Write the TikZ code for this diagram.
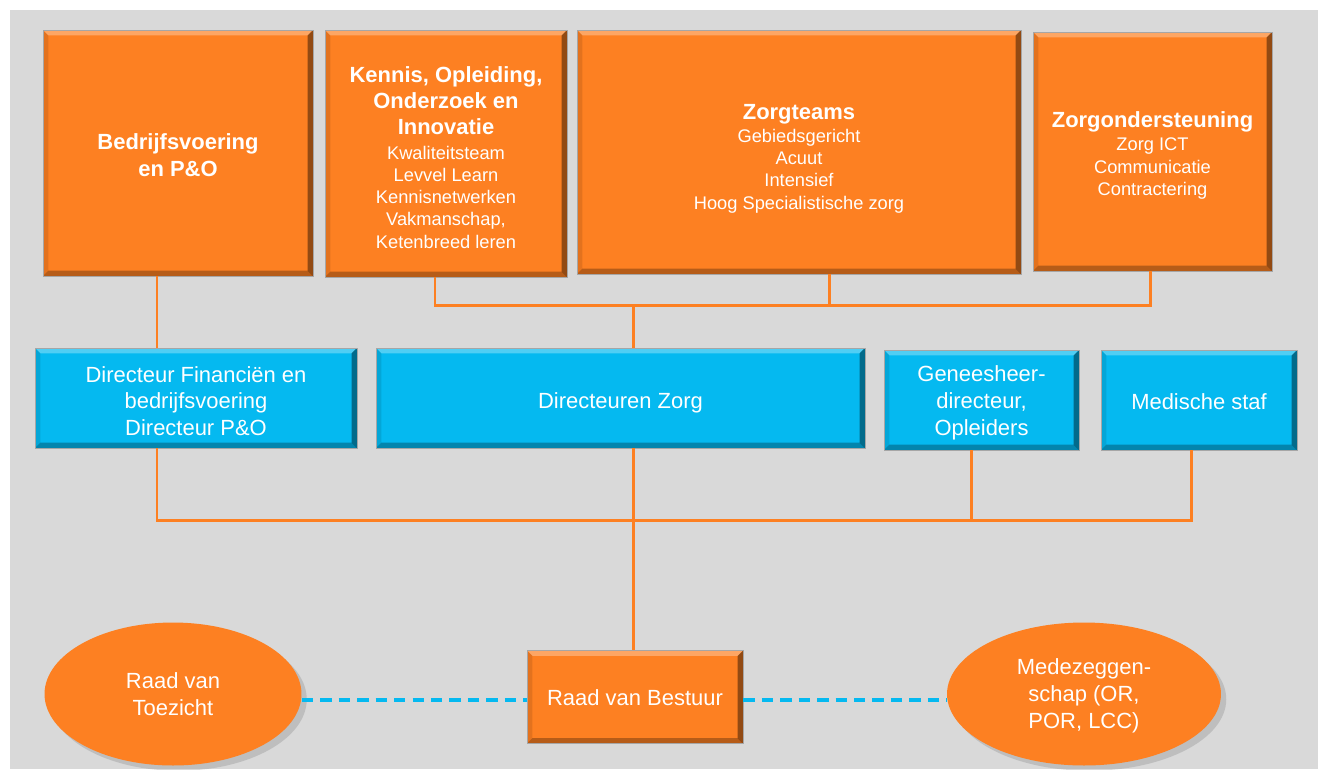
\documentclass[tikz,border=0pt]{standalone}
\usepackage{fontspec}
\setmainfont{Liberation Sans}
\usetikzlibrary{shapes.geometric,shadows}

\definecolor{zorgorange}{RGB}{253,128,34}
\definecolor{zorgblue}{RGB}{5,185,240}
\definecolor{panelgray}{RGB}{217,217,217}

\newcommand{\hfd}{\fontsize{12.5}{15}\selectfont\bfseries}
\newcommand{\subtxt}{\fontsize{10.4}{12.7}\selectfont}
\newcommand{\lbl}{\fontsize{12.5}{15.3}\selectfont}
\newcommand{\topgap}[1]{\rule{0pt}{#1}}

\tikzset{
  bevel/.style={path picture={
      \fill[white,opacity=.3] (path picture bounding box.north west) -- (path picture bounding box.north east)
        -- ([xshift=-#1,yshift=-#1]path picture bounding box.north east)
        -- ([xshift=#1,yshift=-#1]path picture bounding box.north west) -- cycle;
      \fill[black,opacity=.1] (path picture bounding box.north west) -- (path picture bounding box.south west)
        -- ([xshift=#1,yshift=#1]path picture bounding box.south west)
        -- ([xshift=#1,yshift=-#1]path picture bounding box.north west) -- cycle;
      \fill[black,opacity=.28] (path picture bounding box.south west) -- (path picture bounding box.south east)
        -- ([xshift=-#1,yshift=#1]path picture bounding box.south east)
        -- ([xshift=#1,yshift=#1]path picture bounding box.south west) -- cycle;
      \fill[black,opacity=.42] (path picture bounding box.north east) -- (path picture bounding box.south east)
        -- ([xshift=-#1,yshift=#1]path picture bounding box.south east)
        -- ([xshift=-#1,yshift=-#1]path picture bounding box.north east) -- cycle;
  }},
  bevel/.default=3pt,
  link/.style={draw=zorgorange,line width=1.7pt},
  dashlink/.style={draw=zorgblue,line width=2.3pt,dash pattern=on 6.5pt off 4pt}
}

\begin{document}
\begin{tikzpicture}[x=0.02cm,y=-0.02cm]

      \useasboundingbox (0,0) rectangle (1322,769);
      \fill[panelgray] (10,10) rectangle (1318,769);

      % top row
      \begin{scope}[every node/.style={rectangle,fill=zorgorange,draw=black!35,line width=.4pt,
          text=white,align=center,bevel,font=\subtxt}]
        \node[minimum width=5.4cm,minimum height=4.92cm,font=\hfd] (bo) at (178,153)
          {\topgap{11.4pt}Bedrijfsvoering\\en P\&O};
        \node[minimum width=4.84cm,minimum height=4.94cm] (ko) at (446,153.5)
          {\topgap{13.6pt}{\hfd Kennis, Opleiding,}\\[2pt]{\hfd Onderzoek en}\\[2pt]{\hfd Innovatie}\\[1.5pt]Kwaliteitsteam\\Levvel Learn\\Kennisnetwerken\\Vakmanschap,\\Ketenbreed leren};
        \node[minimum width=8.88cm,minimum height=4.88cm] (zt) at (799,152)
          {\topgap{15.9pt}{\hfd Zorgteams}\\[.5pt]Gebiedsgericht\\Acuut\\Intensief\\Hoog Specialistische zorg};
        \node[minimum width=4.78cm,minimum height=4.78cm] (zo) at (1152.5,151.5)
          {\topgap{13.6pt}{\hfd Zorgondersteuning}\\[.5pt]Zorg ICT\\Communicatie\\Contractering};
      \end{scope}

      % directors
      \begin{scope}[every node/.style={rectangle,fill=zorgblue,draw=black!35,line width=.4pt,
          text=white,align=center,bevel,font=\lbl,minimum height=2cm}]
        \node[minimum width=6.44cm] (df) at (196,398) {\topgap{12.5pt}Directeur Financiën en\\bedrijfsvoering\\Directeur P\&O};
        \node[minimum width=9.78cm] (dz) at (620.5,398) {\topgap{14.8pt}Directeuren Zorg};
        \node[minimum width=3.9cm]  (gd) at (981.5,400) {\topgap{12.5pt}Geneesheer-\\directeur,\\Opleiders};
        \node[minimum width=3.92cm] (ms) at (1199,400) {\topgap{11.4pt}Medische staf};
      \end{scope}

      % board
      \begin{scope}[every node/.style={fill=zorgorange,text=white,align=center,font=\lbl}]
        \node[ellipse,minimum width=5.14cm,minimum height=2.86cm,
          drop shadow={shadow xshift=3pt,shadow yshift=-3pt,opacity=.3}] (rt) at (173,694) {Raad van\\Toezicht};
        \node[rectangle,draw=black!35,line width=.4pt,bevel,minimum width=4.32cm,minimum height=1.86cm] (rb) at (635,697)
          {\topgap{10.3pt}Raad van Bestuur};
        \node[ellipse,minimum width=5.48cm,minimum height=2.86cm,
          drop shadow={shadow xshift=3pt,shadow yshift=-3pt,opacity=.3}] (mz) at (1084,694) {\topgap{11.4pt}Medezeggen-\\schap (OR,\\POR, LCC)};
      \end{scope}

      \coordinate (tl) at (435,305);
      \coordinate (tm) at (633,305);
      \coordinate (tz) at (829,305);
      \coordinate (tr) at (1150,305);
      \coordinate (bl) at (157,520);
      \coordinate (bm) at (633,520);
      \coordinate (bg) at (971,520);
      \coordinate (br) at (1191,520);
      \coordinate (dy) at (633,700);

      \draw[link] (ko.south -| tl) -- (tl) -- (tr) -- (zo.south -| tr);
      \draw[link] (zt.south -| tz) -- (tz);
      \draw[link] (tm) -- (dz.north -| tm);
      \draw[link] (bo.south -| bl) -- (df.north -| bl);
      \draw[link] (df.south -| bl) -- (bl) -- (br) -- (ms.south -| br);
      \draw[link] (gd.south -| bg) -- (bg);
      \draw[link] (dz.south -| bm) -- (rb.north -| bm);

      \path (rt.east |- dy) edge[dashlink] (rb.west |- dy);
      \path (rb.east |- dy) edge[dashlink] (mz.west |- dy);

    \end{tikzpicture}
\end{document}
